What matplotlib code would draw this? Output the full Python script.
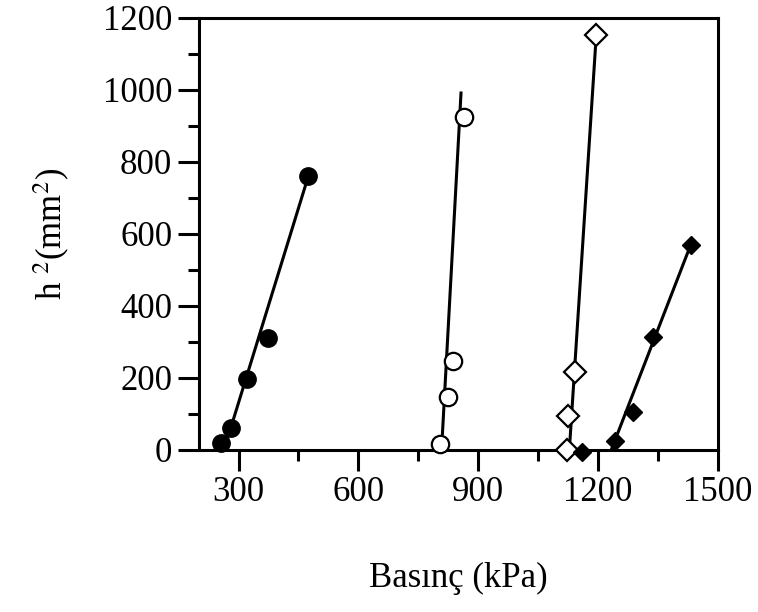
import numpy as np
import matplotlib
matplotlib.use("Agg")
import matplotlib.pyplot as plt

plt.rcParams['font.family'] = ['Liberation Serif', 'DejaVu Serif']
plt.rcParams['mathtext.fontset'] = 'stix'

# measured points (pressure kPa, h^2 mm^2)
fc_x = [257, 280, 320, 375, 475]
fc_y = [19, 61, 197, 311, 761]
oc_x = [804, 825, 836, 865]
oc_y = [17, 147, 247, 925]
od_x = [1122, 1125, 1142, 1196]
od_y = [0, 95, 216, 1153]
fd_x = [1160, 1242, 1287, 1337, 1432]
fd_y = [-5, 25, 105, 314, 569]

# fitted lines (endpoints)
fc_fit_x = [272, 475]
fc_fit_y = [30, 761]
oc_fit_x = [809, 857]
oc_fit_y = [14, 991]
od_fit_x = [1128, 1196]
od_fit_y = [-5, 1158]
fd_fit_x = [1235, 1432]
fd_fit_y = [5, 569]

fig = plt.figure(figsize=(7.58, 6.12), dpi=100)
ax = fig.add_axes([0.262, 0.265, 0.685, 0.706])

lw = 2.2
for fx, fy in [(fc_fit_x, fc_fit_y), (oc_fit_x, oc_fit_y),
               (od_fit_x, od_fit_y), (fd_fit_x, fd_fit_y)]:
    ax.plot(fx, fy, color='black', lw=lw, zorder=2)

ax.plot(fc_x, fc_y, 'o', ms=12.5, mfc='black', mec='black', ls='none', clip_on=False, zorder=3)
ax.plot(oc_x, oc_y, 'o', ms=12.5, mfc='white', mec='black', mew=1.6, ls='none', clip_on=False, zorder=3)
ax.plot(od_x, od_y, 'D', ms=11.5, mfc='white', mec='black', mew=1.6, ls='none', clip_on=False, zorder=3)
ax.plot(fd_x, fd_y, 'D', ms=9.5, mfc='black', mec='black', ls='none', clip_on=False, zorder=3)

ax.set_xlim(200, 1500)
ax.set_ylim(0, 1200)
ax.set_xticks([300, 600, 900, 1200, 1500])
ax.set_xticks([450, 750, 1050, 1350], minor=True)
ax.set_yticks(np.arange(0, 1201, 200))
ax.set_yticks(np.arange(100, 1200, 200), minor=True)

for s in ax.spines.values():
    s.set_linewidth(2.2)
ax.tick_params(which='major', direction='out', length=15, width=2.2, labelsize=25, pad=4)
ax.tick_params(which='minor', direction='out', length=8, width=2.2)
ax.tick_params(top=False, right=False, which='both')

ax.set_xlabel('Basınç (kPa)', fontsize=25, labelpad=38)
ax.set_ylabel('h $^2$(mm$^2$)', fontsize=25, labelpad=22)

fig.savefig('out.png', dpi=100)
